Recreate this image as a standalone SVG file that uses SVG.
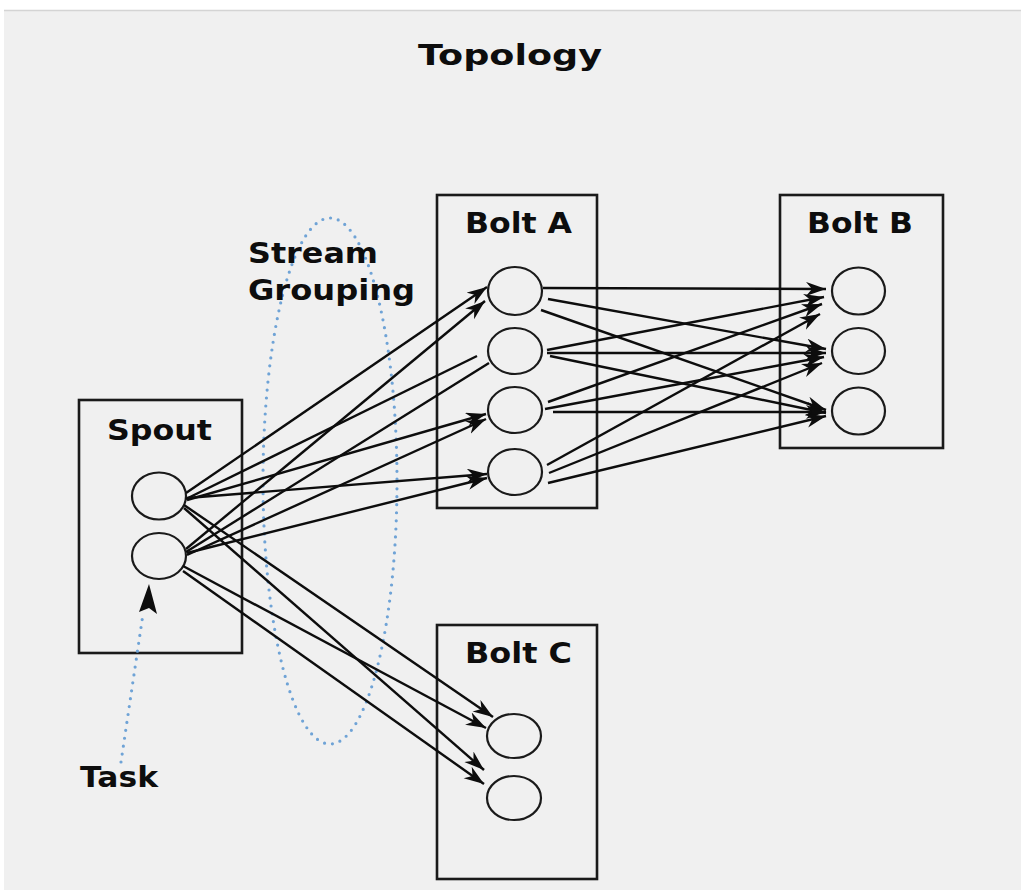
<svg xmlns="http://www.w3.org/2000/svg" width="1021" height="890" viewBox="0 0 1021 890">
<style>
.lbl{font-family:"DejaVu Sans",Verdana,sans-serif;font-weight:bold;font-size:28px;fill:#0d0d0d}
.box{fill:none;stroke:#1a1a1a;stroke-width:2.6}
.task{fill:none;stroke:#1a1a1a;stroke-width:2.2}
.c{fill:none;stroke:#0d0d0d;stroke-width:2.4}
.dot{fill:none;stroke:#6fa3d6;stroke-width:3.2;stroke-linecap:round;stroke-dasharray:0 8}
</style>
<defs>
<marker id="ah" markerUnits="userSpaceOnUse" markerWidth="24" markerHeight="16" refX="20" refY="7" orient="auto">
<path d="M0,0 L20,7 L0,14 L6,7 z" fill="#0d0d0d"/>
</marker>
</defs>
<rect x="0" y="0" width="1021" height="890" fill="#fff"/>
<rect x="4" y="10" width="1017" height="880" fill="#f0f0f0"/>
<line x1="4" y1="10.5" x2="1021" y2="10.5" stroke="#d4d4d4" stroke-width="1.5"/>
<text class="lbl" x="418" y="65" font-size="35" textLength="184" lengthAdjust="spacingAndGlyphs">Topology</text>

<g id="stream-grouping">
<ellipse class="dot" cx="330" cy="481" rx="67" ry="263"/>
<text class="lbl" x="248" y="263" textLength="130" lengthAdjust="spacingAndGlyphs">Stream</text>
<text class="lbl" x="248" y="300" textLength="167" lengthAdjust="spacingAndGlyphs">Grouping</text>
</g>

<g id="spout">
<rect class="box" x="79" y="400" width="163" height="253"/>
<text class="lbl" x="107" y="440" textLength="105" lengthAdjust="spacingAndGlyphs">Spout</text>
<ellipse class="task" cx="159" cy="496" rx="27" ry="23.5"/>
<ellipse class="task" cx="159" cy="556" rx="27" ry="23"/>
</g>

<g id="bolt-a">
<rect class="box" x="437" y="195" width="160" height="313"/>
<text class="lbl" x="465" y="233" textLength="107" lengthAdjust="spacingAndGlyphs">Bolt A</text>
<ellipse class="task" cx="515" cy="291" rx="27" ry="24"/>
<ellipse class="task" cx="515" cy="351" rx="27" ry="23"/>
<ellipse class="task" cx="515" cy="410" rx="27" ry="23"/>
<ellipse class="task" cx="515" cy="472" rx="27" ry="23"/>
</g>

<g id="bolt-b">
<rect class="box" x="780" y="195" width="163" height="253"/>
<text class="lbl" x="807" y="233" textLength="106" lengthAdjust="spacingAndGlyphs">Bolt B</text>
<ellipse class="task" cx="858.5" cy="291" rx="26.5" ry="23.5"/>
<ellipse class="task" cx="858.5" cy="351" rx="26.5" ry="23"/>
<ellipse class="task" cx="858.5" cy="411" rx="26.5" ry="23.5"/>
</g>

<g id="bolt-c">
<rect class="box" x="437" y="625" width="160" height="254"/>
<text class="lbl" x="465" y="663" textLength="107" lengthAdjust="spacingAndGlyphs">Bolt C</text>
<ellipse class="task" cx="514" cy="736" rx="27" ry="22"/>
<ellipse class="task" cx="514" cy="798" rx="27" ry="22"/>
</g>

<g id="task-label">
<text class="lbl" x="80" y="787" textLength="78" lengthAdjust="spacingAndGlyphs">Task</text>
<line class="dot" x1="121" y1="762" x2="143" y2="614"/>
<path d="M149,584 L157,614 L149,608 L139,612 z" fill="#0d0d0d"/>
</g>

<g id="connectors">
<line class="c" x1="186" y1="493" x2="487" y2="287" marker-end="url(#ah)"/>
<line class="c" x1="186" y1="549" x2="485" y2="301" marker-end="url(#ah)"/>
<line class="c" x1="186" y1="499" x2="477" y2="356"/>
<line class="c" x1="186" y1="552" x2="489" y2="363"/>
<line class="c" x1="187" y1="500" x2="486" y2="414" marker-end="url(#ah)"/>
<line class="c" x1="187" y1="555" x2="486" y2="419" marker-end="url(#ah)"/>
<line class="c" x1="187" y1="498" x2="487" y2="474" marker-end="url(#ah)"/>
<line class="c" x1="187" y1="553" x2="487" y2="478" marker-end="url(#ah)"/>
<line class="c" x1="184" y1="505" x2="493" y2="717" marker-end="url(#ah)"/>
<line class="c" x1="184" y1="508" x2="484" y2="770" marker-end="url(#ah)"/>
<line class="c" x1="183" y1="566" x2="486" y2="728" marker-end="url(#ah)"/>
<line class="c" x1="183" y1="571" x2="484" y2="784" marker-end="url(#ah)"/>
<line class="c" x1="543" y1="288" x2="826" y2="289" marker-end="url(#ah)"/>
<line class="c" x1="548" y1="299" x2="826" y2="349" marker-end="url(#ah)"/>
<line class="c" x1="541" y1="310" x2="826" y2="410" marker-end="url(#ah)"/>
<line class="c" x1="547" y1="350" x2="824" y2="297" marker-end="url(#ah)"/>
<line class="c" x1="547" y1="353" x2="826" y2="353" marker-end="url(#ah)"/>
<line class="c" x1="550" y1="356" x2="826" y2="413" marker-end="url(#ah)"/>
<line class="c" x1="548" y1="402" x2="822" y2="304" marker-end="url(#ah)"/>
<line class="c" x1="545" y1="409" x2="824" y2="357" marker-end="url(#ah)"/>
<line class="c" x1="553" y1="412" x2="826" y2="412" marker-end="url(#ah)"/>
<line class="c" x1="547" y1="465" x2="820" y2="314" marker-end="url(#ah)"/>
<line class="c" x1="549" y1="473" x2="822" y2="363" marker-end="url(#ah)"/>
<line class="c" x1="548" y1="483" x2="826" y2="416" marker-end="url(#ah)"/>
</g>
</svg>
